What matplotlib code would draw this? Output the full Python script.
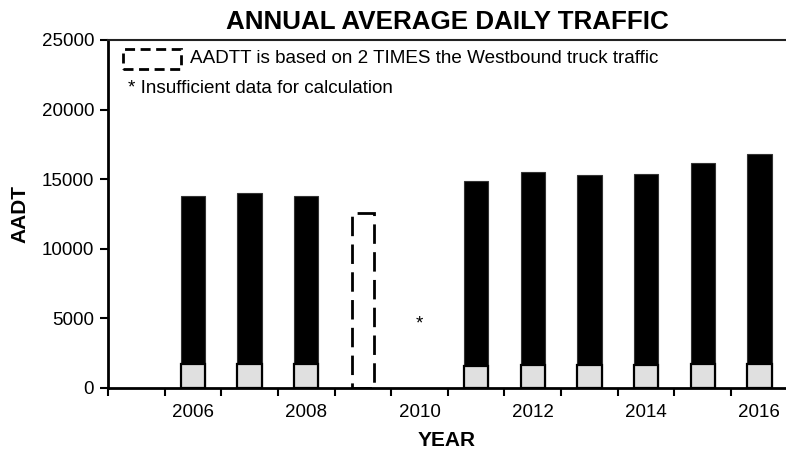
import numpy as np
import matplotlib
matplotlib.use("Agg")
import matplotlib.pyplot as plt
from matplotlib.patches import Rectangle

plt.rcParams['font.family'] = ['Liberation Sans', 'DejaVu Sans']

years = [2005, 2006, 2007, 2008, 2009, 2010, 2011, 2012, 2013, 2014, 2015, 2016]
# total AADT (black bars); None where no solid bar is drawn
aadt = [None, 13760, 14030, 13760, None, None, 14840, 15530, 15320, 15340, 16180, 16780]
# truck part (light grey, drawn over the bottom of each bar)
aadtt = [None, 1680, 1720, 1680, None, None, 1530, 1600, 1600, 1600, 1680, 1680]
# 2009: estimated from 2 x westbound trucks (dashed outline)
dashed_year = 2009
dashed_value = 12560
# 2010: insufficient data
missing_year = 2010
missing_mark_y = 4600

x = np.arange(len(years))

fig = plt.figure(figsize=(7.86, 4.53), dpi=100)
ax = fig.add_axes([0.1374, 0.1441, 0.8626, 0.7676])

solid_x = [x[i] for i in range(len(years)) if aadt[i] is not None]
solid_total = [v for v in aadt if v is not None]
solid_truck = [v for v in aadtt if v is not None]

ax.bar(solid_x, solid_total, width=0.43, color='black', edgecolor='#333333', linewidth=0.8, zorder=2)
ax.bar(solid_x, solid_truck, width=0.43, color='#e0e0e0', edgecolor='black', linewidth=1.6, zorder=3)

di = years.index(dashed_year)
ax.bar([x[di]], [dashed_value], width=0.4, fill=False, edgecolor='black',
       linewidth=2, linestyle=(0, (7, 3)), zorder=2)

mi = years.index(missing_year)
ax.text(x[mi], missing_mark_y, '*', ha='center', va='center', fontsize=13.5)

# legend notes
ax.add_patch(Rectangle((0.0225, 0.9165), 0.085, 0.0585, transform=ax.transAxes, fill=False,
                       edgecolor='black', linewidth=2, linestyle=(0, (3.6, 2)), clip_on=False))
ax.text(0.1215, 0.9455, 'AADTT is based on 2 TIMES the Westbound truck traffic',
        transform=ax.transAxes, ha='left', va='center', fontsize=13.6)
ax.text(0.029, 0.8595, '* Insufficient data for calculation',
        transform=ax.transAxes, ha='left', va='center', fontsize=13.6)

ax.set_xlim(-0.5, 11.47)
ax.set_ylim(0, 25000)
ax.set_yticks(np.arange(0, 25001, 5000))
ax.set_xticks(x[1::2])
ax.set_xticklabels([str(y) for y in years[1::2]])
ax.set_xticks(list(np.arange(-0.5, 11, 1.0)), minor=True)
ax.tick_params(axis='x', which='major', length=0, pad=12, labelsize=13.5)
ax.tick_params(axis='x', which='minor', length=6, width=1.5, direction='out')
ax.tick_params(axis='y', length=6, width=1.5, direction='out', labelsize=13.5, pad=4)

for s in ['left', 'bottom']:
    ax.spines[s].set_linewidth(2)
    ax.spines[s].set_color('black')
ax.spines['top'].set_linewidth(1.5)
ax.spines['top'].set_color('#222222')
ax.spines['right'].set_visible(False)

ax.set_title('ANNUAL AVERAGE DAILY TRAFFIC', fontsize=18.7, fontweight='bold', pad=8)
ax.set_xlabel('YEAR', fontsize=15, fontweight='bold', labelpad=7)
ax.set_ylabel('AADT', fontsize=15, fontweight='bold', labelpad=9)

fig.savefig('out.png', dpi=100)
